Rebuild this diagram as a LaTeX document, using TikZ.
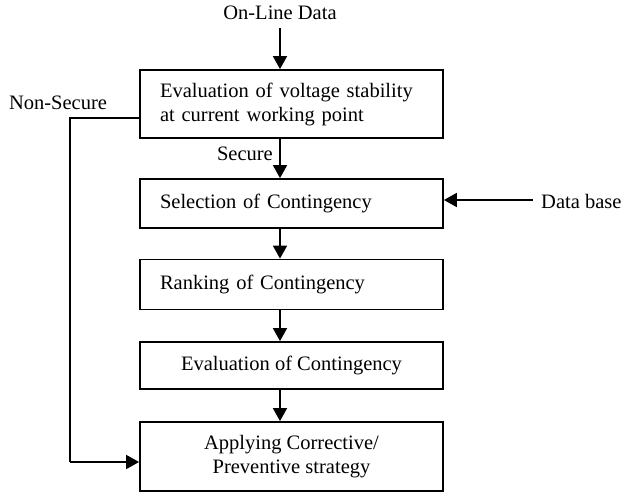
\documentclass[tikz,border=0pt]{standalone}
\usepackage{fontspec}
\setmainfont{Liberation Serif}
\usetikzlibrary{arrows.meta,calc}
\tikzset{
  blk/.style={draw, line width=1.8pt, rectangle, minimum width=303pt, inner sep=0pt,
    font=\fontsize{20.5}{24}\selectfont},
  lblk/.style={blk, text width=263pt, align=left},
  cblk/.style={blk, align=center},
  lbl/.style={inner sep=0pt, font=\fontsize{20.5}{24}\selectfont},
  arr/.style={line width=1.8pt, -{Triangle[length=13pt,width=14pt]}},
  ln/.style={line width=1.8pt}
}
\begin{document}
\begin{tikzpicture}[x=1pt,y=-1pt]
\useasboundingbox (0,0) rectangle (625,495);
% process boxes
\node[lblk, minimum height=68pt] (b1) at (291.5,104) {Evaluation of voltage stability\\at current working point};
\node[lblk, minimum height=49pt] (b2) at (291.5,203.5) {Selection of Contingency};
\node[lblk, minimum height=50pt] (b3) at (291.5,284.5) {Ranking of Contingency};
\node[cblk, minimum height=47pt] (b4) at (291.5,365.5) {Evaluation of Contingency};
\node[cblk, minimum height=69pt] (b5) at (291.5,456.5) {Applying Corrective/\\Preventive strategy};
% labels
\node[lbl] (online) at (280,13) {On-Line Data};
\node[lbl, anchor=west] (db) at (541,201) {Data base};
\node[lbl] (nonsec) at (58,103) {Non-Secure};
\node[lbl, anchor=east] (sec) at (273,154) {Secure};
% main flow
\coordinate (c0) at (280,28);
\draw[arr] (c0) -- (c0 |- b1.north);
\draw[arr] (c0 |- b1.south) -- (c0 |- b2.north);
\draw[arr] (c0 |- b2.south) -- (c0 |- b3.north);
\draw[arr] (c0 |- b3.south) -- (c0 |- b4.north);
\draw[arr] (c0 |- b4.south) -- (c0 |- b5.north);
% data base input
\coordinate (dbe) at (533,200);
\draw[arr] (dbe) -- (dbe -| b2.east);
% non-secure bypass
\coordinate (ns1) at (70,118);
\coordinate (ns2) at (70,462);
\draw[ln] (ns1 -| b1.west) -- (ns1) -- (ns2);
\draw[arr] (ns2) -- (ns2 -| b5.west);
\end{tikzpicture}
\end{document}
